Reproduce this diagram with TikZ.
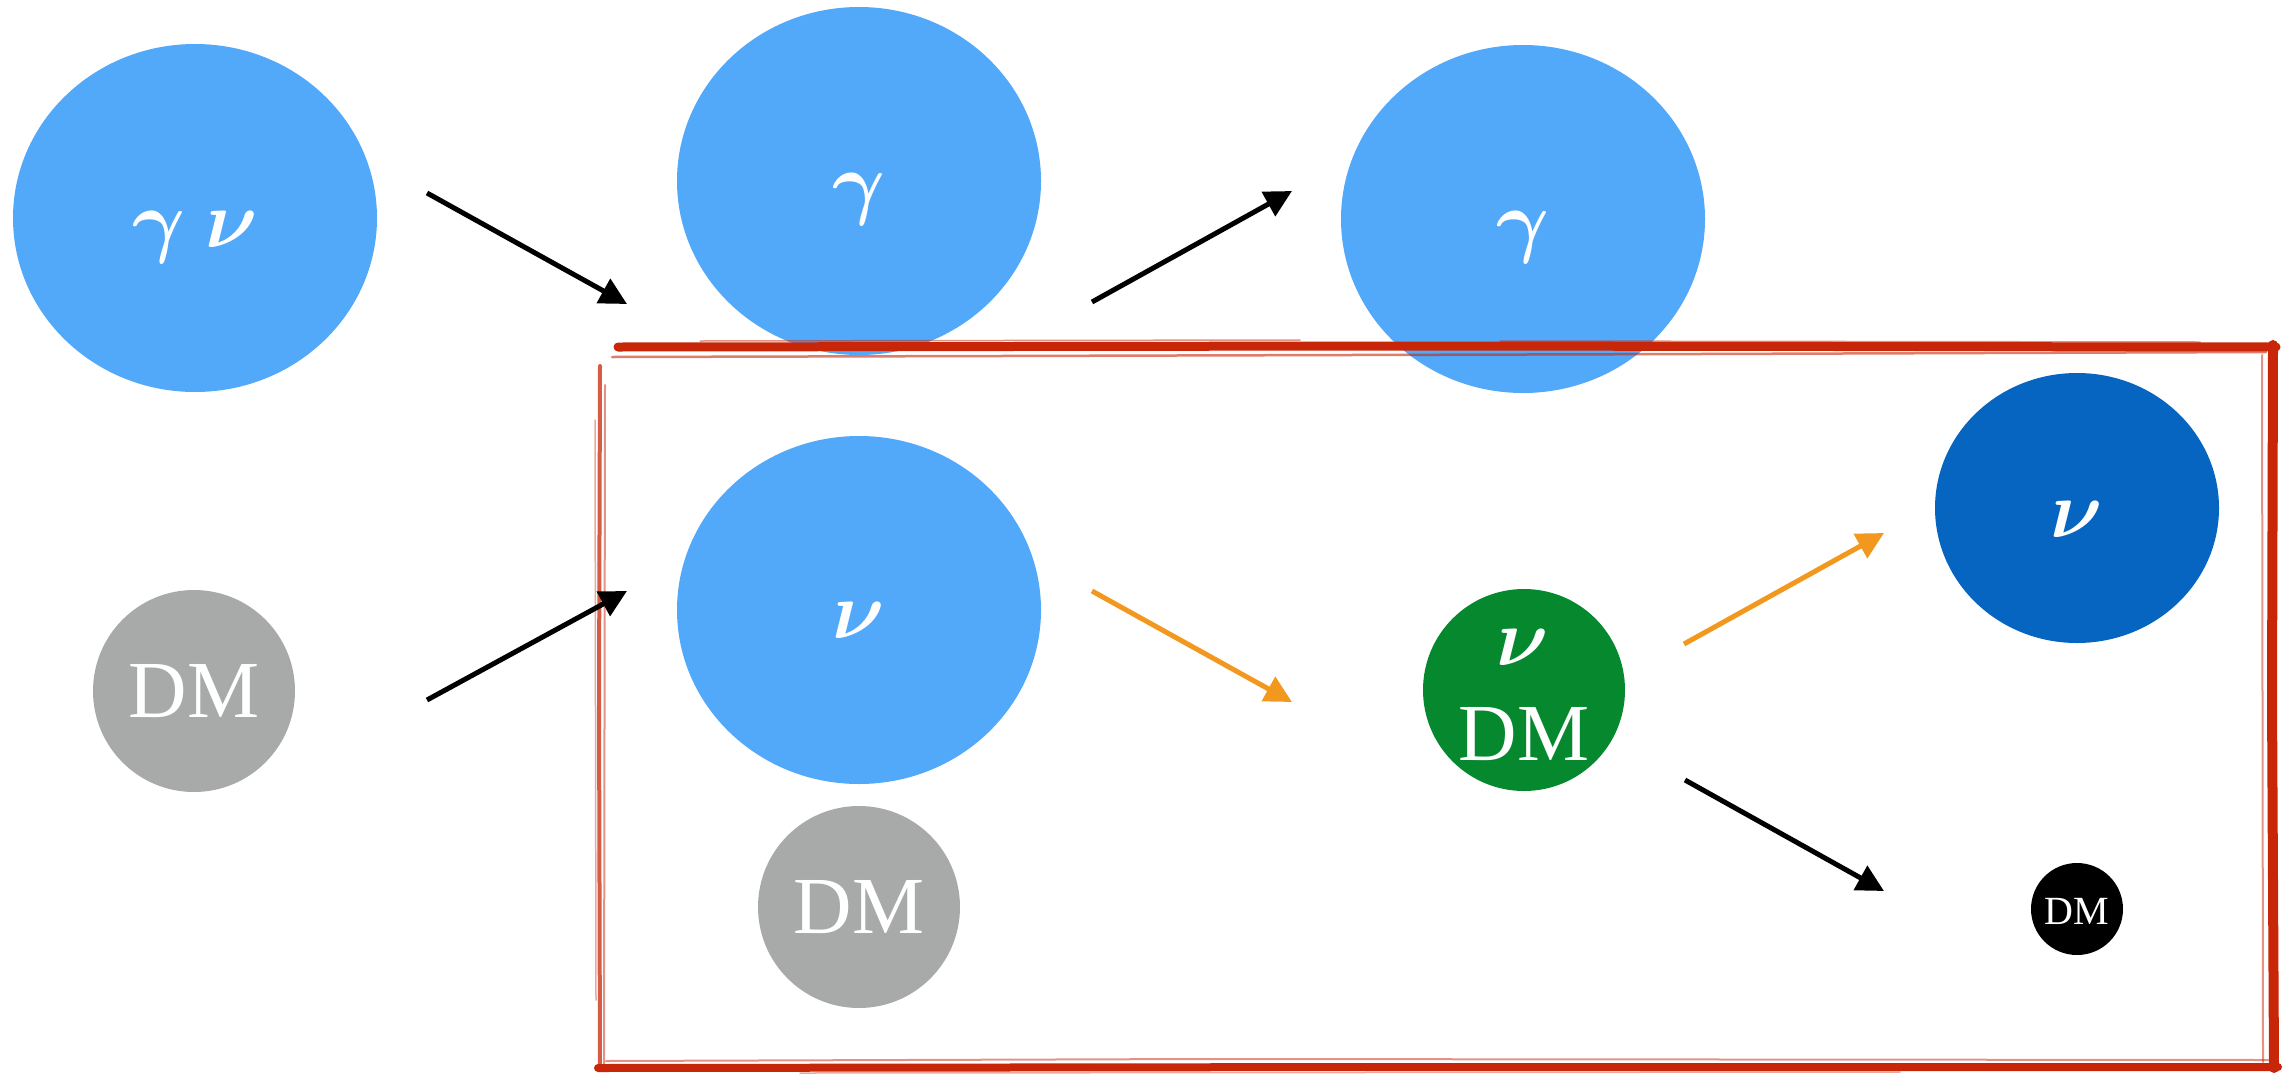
\documentclass[tikz,border=0pt]{standalone}
\usepackage{graphicx}
\usepackage{fontspec}
\setmainfont{Liberation Serif}
\usetikzlibrary{arrows.meta,shapes.geometric}
\definecolor{lblue}{HTML}{52A8F9}
\definecolor{dblue}{HTML}{0565C0}
\definecolor{dmgreen}{HTML}{06882E}
\definecolor{dmgrey}{HTML}{A7AAA9}
\definecolor{arrorange}{HTML}{F3981E}
\definecolor{boxred}{HTML}{C82608}
\newcommand{\bigsym}[1]{\scalebox{8.1}{\fontsize{10}{12}\selectfont\boldmath #1}}
\begin{document}
\begin{tikzpicture}[x=1pt,y=-1pt,
  blob/.style={ellipse,inner sep=0pt,outer sep=0pt,fill=lblue,minimum width=364pt,minimum height=348pt},
  disc/.style={circle,inner sep=0pt,outer sep=0pt,minimum size=202pt,fill=dmgrey},
  lbl/.style={anchor=base,text=white,inner sep=0pt,font=\fontsize{81}{97}\selectfont},
  symlbl/.style={anchor=base,text=white,inner sep=0pt},
  smalllbl/.style={anchor=base,text=white,inner sep=0pt,font=\fontsize{40}{48}\selectfont},
  arr/.style={line width=5pt,-{Triangle[length=27pt,width=27pt]}},
  rough/.style={draw=boxred,line cap=round}]
\useasboundingbox (0,0) rectangle (2287,1074);

% shapes
\node[blob] (gn) at (195,218) {};
\node[blob] (g1) at (859,181) {};
\node[blob] (g2) at (1523,219) {};
\node[blob] (n1) at (859,610) {};
\node[ellipse,inner sep=0pt,fill=dblue,minimum width=284pt,minimum height=270pt] (n2) at (2077,508) {};
\node[disc] (dm0) at (194,691) {};
\node[disc] (dm1) at (859,907) {};
\node[disc,fill=dmgreen] (mix) at (1524,690) {};
\node[circle,inner sep=0pt,minimum size=92pt,fill=black] (dm2) at (2077,909) {};

% sketchy red frame
\draw[rough,line width=9pt] (618,347) -- (1400,346) -- (2276,347);
\draw[rough,line width=2.5pt,opacity=.6] (612,357) -- (1000,356) -- (1700,354) -- (2266,352);
\draw[rough,line width=1.5pt,opacity=.5] (700,341) -- (1300,340);
\draw[rough,line width=1.5pt,opacity=.5] (1500,341) -- (2200,342);
\draw[rough,line width=10pt] (2273,345) -- (2272,700) -- (2274,1068);
\draw[rough,line width=2pt,opacity=.5] (2262,355) -- (2263,1062);
\draw[rough,line width=8pt] (598,1068) -- (1400,1067) -- (2278,1067);
\draw[rough,line width=2pt,opacity=.5] (606,1061) -- (1200,1059) -- (2268,1060);
\draw[rough,line width=1.5pt,opacity=.4] (800,1073) -- (1900,1072);
\draw[rough,line width=4pt,opacity=.75] (600,366) -- (599,700) -- (600,1070);
\draw[rough,line width=2pt,opacity=.5] (605,385) -- (604,1064);
\draw[rough,line width=1.5pt,opacity=.4] (595,420) -- (596,1000);

% arrows
\coordinate (a1s) at (427,193); \coordinate (a1e) at (627,304);
\coordinate (a2s) at (427,700); \coordinate (a2e) at (627,591);
\coordinate (a3s) at (1092,302); \coordinate (a3e) at (1292,191);
\coordinate (a4s) at (1092,591); \coordinate (a4e) at (1292,702);
\coordinate (a5s) at (1684,644); \coordinate (a5e) at (1884,533);
\coordinate (a6s) at (1685,780); \coordinate (a6e) at (1884,891);
\draw[arr] (a1s) -- (a1e);
\draw[arr] (a2s) -- (a2e);
\draw[arr] (a3s) -- (a3e);
\draw[arr,arrorange] (a4s) -- (a4e);
\draw[arr,arrorange] (a5s) -- (a5e);
\draw[arr] (a6s) -- (a6e);

% labels
\node[symlbl] (tgn) at (195,247) {\bigsym{$\gamma$\hspace{2.5pt}$\nu$}};
\node[symlbl] (tg1) at (859,209) {\bigsym{$\gamma$}};
\node[symlbl] (tg2) at (1523,247) {\bigsym{$\gamma$}};
\node[symlbl] (tn1) at (859,638) {\bigsym{$\nu$}};
\node[symlbl] (tn2) at (2077,537) {\bigsym{$\nu$}};
\node[symlbl] (tmixn) at (1523,665) {\bigsym{$\nu$}};
\node[lbl] (tmixd) at (1524,760) {DM};
\node[lbl] (tdm0) at (194,717) {DM};
\node[lbl] (tdm1) at (859,933) {DM};
\node[smalllbl] (tdm2) at (2077,924) {DM};
\end{tikzpicture}
\end{document}
